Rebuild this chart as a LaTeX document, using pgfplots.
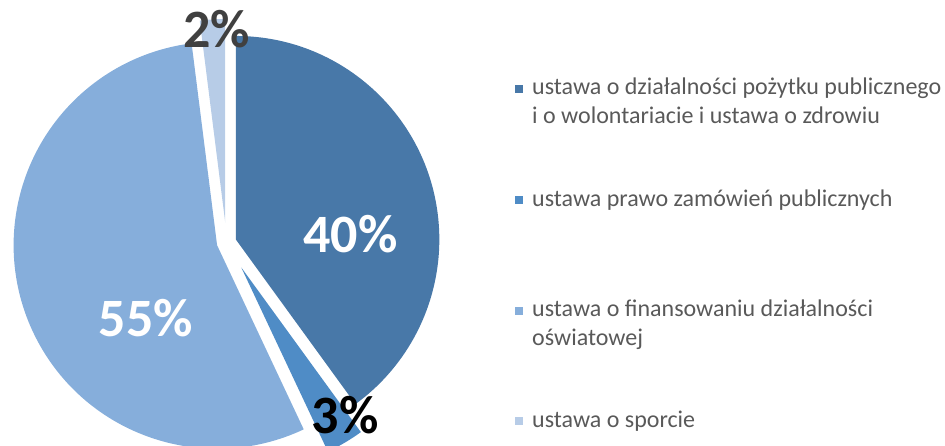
\documentclass[border=0pt]{standalone}
\usepackage{pgfplots}
\pgfplotsset{compat=1.18}
\usepackage{fontspec}
\setmainfont{Carlito}

\definecolor{s1}{HTML}{4878A8}
\definecolor{s2}{HTML}{4F8CC6}
\definecolor{s3}{HTML}{86AEDB}
\definecolor{s4}{HTML}{B7CCE7}
\definecolor{legtxt}{HTML}{595959}
\definecolor{lab2}{HTML}{404040}

% shares in percent, clockwise from 12 o'clock
\def\pA{40}\def\pB{3}\def\pC{55}\def\pD{2}
\pgfmathsetmacro\aA{90}
\pgfmathsetmacro\aB{\aA-3.6*\pA}
\pgfmathsetmacro\aC{\aB-3.6*\pB}
\pgfmathsetmacro\aD{\aC-3.6*\pC}
\pgfmathsetmacro\aE{\aD-3.6*\pD}

% colour, start angle, end angle, explode distance
\newcommand{\slice}[4]{%
  \fill[#1] (axis cs:{226.5+#4*cos((#2+#3)/2)},{203.5+#4*sin((#2+#3)/2)})
    -- ++(#2:203.5pt) arc[start angle=#2, end angle=#3, radius=203.5pt] -- cycle;
}
\newcommand{\legkey}[2]{% colour, y of key centre (px from top)
  \fill[#1] (axis cs:515,{446-#2-4}) rectangle (axis cs:523,{446-#2+4});
}

\begin{document}
\begin{tikzpicture}
\begin{axis}[
  hide axis, scale only axis,
  width=945pt, height=446pt,
  xmin=0, xmax=945, ymin=0, ymax=446,
  clip mode=individual,
]
\addplot[draw=none] coordinates {(0,0) (945,446)};
\begin{scope}
\clip (axis cs:0,0) rectangle (axis cs:945,446);
\slice{s1}{\aA}{\aB}{9.8}
\slice{s2}{\aB}{\aC}{29}
\slice{s3}{\aC}{\aD}{9.8}
\slice{s4}{\aD}{\aE}{20}
\end{scope}

\begin{scope}[every node/.style={anchor=base, inner sep=0pt,
    font=\fontsize{54}{54}\selectfont\bfseries}]
  \node[text=white] at (axis cs:350.5,{446-253}) {40\%};
  \node[text=white] at (axis cs:146,{446-337}) {55\%};
  \node[text=lab2] at (axis cs:216.5,{446-48}) {2\%};
  \node[text=black] at (axis cs:345,{446-434}) {3\%};
\end{scope}

\legkey{s1}{89}
\legkey{s2}{200}
\legkey{s3}{311.5}
\legkey{s4}{421.5}
\begin{scope}[every node/.style={anchor=base west, inner sep=0pt,
    text=legtxt, font=\fontsize{24}{28}\selectfont}]
  \node at (axis cs:532,{446-95}) {ustawa o działalności pożytku publicznego};
  \node at (axis cs:532,{446-123.3}) {i o wolontariacie i ustawa o zdrowiu};
  \node at (axis cs:532,{446-206.7}) {ustawa prawo zamówień publicznych};
  \node at (axis cs:532,{446-317}) {ustawa o finansowaniu działalności};
  \node at (axis cs:532,{446-346}) {oświatowej};
  \node at (axis cs:532,{446-428}) {ustawa o sporcie};
\end{scope}

\coordinate (ll) at (axis cs:0,0);
\coordinate (ur) at (axis cs:945,446);
\end{axis}
\pgfresetboundingbox
\path[use as bounding box] (ll) rectangle (ur);
\end{tikzpicture}
\end{document}
